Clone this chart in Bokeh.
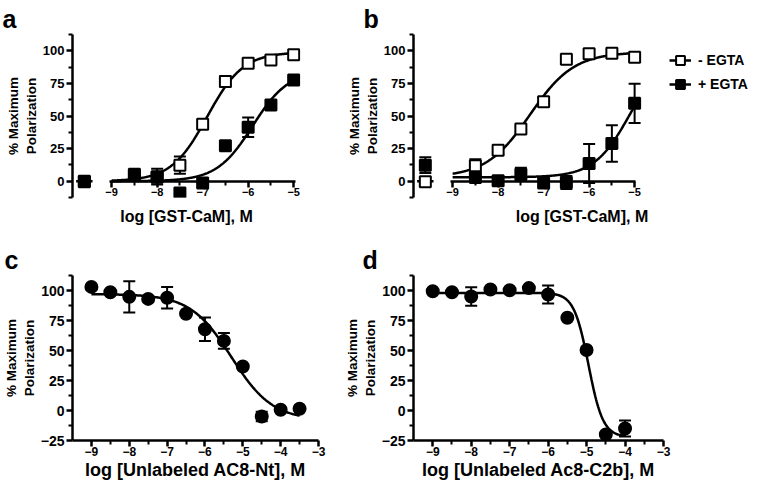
import numpy as np
from bokeh.plotting import figure
from bokeh.models import (ColumnDataSource, Whisker, TeeHead, FixedTicker, Range1d,
                          Legend, LegendItem, LinearAxis)
from bokeh.layouts import column, row
from bokeh.embed import file_html
from bokeh.resources import INLINE

FONT = "Liberation Sans"

# ---------------- data ----------------
ZERO_X = -9.6  # "no GST-CaM" control, plotted on the broken-axis stub

# Panel a  (x = log [GST-CaM], M)
a_x = [ZERO_X, -8.5, -8.0, -7.5, -7.0, -6.5, -6.0, -5.5, -5.0]
a_minus_y = [0.0, 4.5, 3.5, 12.3, 43.6, 76.4, 90.5, 93.0, 96.9]
a_minus_err = [0, 0, 6.0, 6.6, 0, 4.0, 2.0, 0, 0]
a_plus_y = [-0.5, 5.4, 3.0, -9.0, -1.3, 27.2, 41.3, 58.5, 77.7]
a_plus_err = [0, 0, 2.0, 0, 0, 0, 7.5, 0, 0]
a_minus_fit = [0.0, 99.0, -6.9, 1.1]     # bottom, top, logEC50, Hill
a_plus_fit = [0.0, 85.0, -5.9, 1.1]

# Panel b
b_x = [ZERO_X, -8.5, -8.0, -7.5, -7.0, -6.5, -6.0, -5.5, -5.0]
b_minus_y = [-0.5, 11.8, 23.8, 40.0, 61.0, 93.6, 97.7, 98.2, 95.0]
b_minus_err = [0, 5.0, 3.0, 2.0, 3.0, 0, 0, 0, 0]
b_plus_y = [12.3, 2.8, 0.3, 5.4, -1.3, -1.0, 13.6, 29.0, 59.7]
b_plus_err = [6.0, 2.0, 0, 5.0, 0, 5.0, 15.0, 14.0, 15.0]
b_minus_fit = [3.0, 99.0, -7.3, 0.9]
b_plus_fit = [3.0, 100.0, -5.1, 1.1]

# Panel c  (x = log [Unlabeled AC8-Nt], M)
c_x = [-9.0, -8.5, -8.0, -7.5, -7.0, -6.5, -6.0, -5.5, -5.0, -4.5, -4.0, -3.5]
c_y = [103.0, 98.6, 94.7, 93.0, 93.9, 80.6, 67.7, 58.0, 36.7, -5.0, 0.6, 1.4]
c_err = [0, 0, 13.0, 0, 9.0, 0, 9.7, 6.6, 0, 4.0, 0, 0]
c_fit = [-8.0, 97.0, -5.3, -0.8]

# Panel d  (x = log [Unlabeled Ac8-C2b], M)
d_x = [-9.0, -8.5, -8.0, -7.5, -7.0, -6.5, -6.0, -5.5, -5.0, -4.5, -4.0]
d_y = [99.4, 98.6, 95.0, 100.8, 100.2, 102.0, 96.7, 77.3, 50.4, -20.0, -15.0]
d_err = [0, 0, 7.7, 0, 0, 0, 7.5, 0, 0, 0, 6.6]
d_fit = [-22.0, 98.0, -4.95, -2.3]

AB_XTICKS = [-9, -8, -7, -6, -5]
AB_XMINOR = [-8.5, -7.5, -6.5, -5.5]
AB_YTICKS = [0, 25, 50, 75, 100]
AB_YMINOR = [-12.5, 12.5, 37.5, 62.5, 87.5, 112.5]
CD_XTICKS = [-9, -8, -7, -6, -5, -4, -3]
CD_XMINOR = [-8.5, -7.5, -6.5, -5.5, -4.5, -3.5]
CD_YTICKS = [-25, 0, 25, 50, 75, 100]
CD_YMINOR = [-12.5, 12.5, 37.5, 62.5, 87.5, 112.5]

Y_LABEL_OUTER = "% Maximum"
Y_LABEL_INNER = "Polarization"
AB_XLABEL = "log [GST-CaM], M"


def logistic(x, bottom, top, logec50, hill):
    return bottom + (top - bottom) / (1.0 + 10.0 ** ((logec50 - x) * hill))


def base_fig(width, height, borders, xlim, ylim, tag, tag_offset):
    l, r, t, b = borders
    p = figure(width=width, height=height, x_range=Range1d(*xlim), y_range=Range1d(*ylim),
               output_backend="svg", toolbar_location=None, title=tag,
               x_axis_location=None, y_axis_location=None,
               min_border_left=l, min_border_right=r, min_border_top=t, min_border_bottom=b)
    p.outline_line_color = None
    p.xgrid.visible = False
    p.ygrid.visible = False
    p.background_fill_color = "white"
    p.border_fill_color = "white"
    p.title.align = "left"
    p.title.vertical_align = "top"
    p.title.offset = tag_offset
    p.title.standoff = 0
    p.title.text_font = FONT
    p.title.text_font_style = "bold"
    p.title.text_font_size = "25px"
    p.title.text_color = "black"
    return p


def tick_axis(ticks, minor, tick_px, label=None, label_px="13px", **kw):
    ax = LinearAxis(ticker=FixedTicker(ticks=ticks, minor_ticks=minor), **kw)
    ax.axis_line_width = 2.5
    ax.axis_line_color = "black"
    ax.major_tick_line_width = 2.5
    ax.minor_tick_line_width = 2
    ax.major_tick_out = 6
    ax.major_tick_in = 0
    ax.minor_tick_out = 4
    ax.minor_tick_in = 0
    ax.major_label_text_font = FONT
    ax.major_label_text_font_style = "bold"
    ax.major_label_text_font_size = tick_px
    ax.major_label_text_color = "black"
    ax.major_label_standoff = 2
    if label is not None:
        ax.axis_label = label
        ax.axis_label_text_font = FONT
        ax.axis_label_text_font_style = "bold"
        ax.axis_label_text_font_size = label_px
        ax.axis_label_text_color = "black"
        ax.axis_label_standoff = 1
    return ax


def label_axis(text, size, standoff, bounds="auto"):
    ax = LinearAxis(ticker=FixedTicker(ticks=[]), axis_label=text, bounds=bounds)
    ax.axis_line_color = None
    ax.major_tick_line_color = None
    ax.minor_tick_line_color = None
    ax.major_tick_out = 0
    ax.major_tick_in = 0
    ax.minor_tick_out = 0
    ax.minor_tick_in = 0
    ax.major_label_standoff = 0
    ax.axis_label_standoff = standoff
    ax.axis_label_text_font = FONT
    ax.axis_label_text_font_style = "bold"
    ax.axis_label_text_font_size = size
    ax.axis_label_text_color = "black"
    return ax


def draw_series(p, x, y, err, fit, xfit, marker, filled, size):
    xs = np.linspace(xfit[0], xfit[1], 300)
    line = p.line(xs, logistic(xs, *fit), line_color="black", line_width=2.5)
    idx = [i for i, e in enumerate(err) if e > 0]
    src = ColumnDataSource(dict(x=[x[i] for i in idx],
                                upper=[y[i] + err[i] for i in idx],
                                lower=[y[i] - err[i] for i in idx]))
    p.add_layout(Whisker(source=src, base="x", upper="upper", lower="lower",
                         line_color="black", line_width=2,
                         upper_head=TeeHead(size=12, line_width=2, line_color="black"),
                         lower_head=TeeHead(size=12, line_width=2, line_color="black")))
    pts = p.scatter(x, y, marker=marker, size=size, line_color="black", line_width=2,
                    fill_color="black" if filled else "white")
    return line, pts


AB_YLIM = (-12.5, 112.5)
CD_XLIM = (-9.5, -3.0)
CD_YLIM = (-25.0, 112.5)
BREAK_STUB = (-9.78, -9.42)
AB_AXIS_BOUNDS = (-9.04, -4.97)
AB_LABEL_BOUNDS = (-9.25, -4.97)


def ab_panel(width, borders, xlim, xs, minus_y, minus_err, plus_y, plus_err, minus_fit,
             plus_fit, tag, tag_offset):
    p = base_fig(width, 245, borders, xlim, AB_YLIM, tag, tag_offset)
    # y axis (ticks + inner label line), then outer label line
    p.add_layout(tick_axis(AB_YTICKS, AB_YMINOR, "13px", Y_LABEL_INNER, "13.5px"), "left")
    p.add_layout(label_axis(Y_LABEL_OUTER, "13.5px", 0), "left")
    # x axis drawn at y = 0, with a break before -9
    xax = tick_axis(AB_XTICKS, AB_XMINOR, "11px", fixed_location=0)
    xax.bounds = AB_AXIS_BOUNDS
    xax.major_label_standoff = 1
    p.add_layout(xax, "below")
    p.add_layout(label_axis(AB_XLABEL, "16px", 10, AB_LABEL_BOUNDS), "below")
    p.segment(x0=[BREAK_STUB[0]], y0=[0], x1=[BREAK_STUB[1]], y1=[0],
              line_color="black", line_width=2.5)
    ml, mp = draw_series(p, xs, minus_y, minus_err, minus_fit, (-9, -5), "square", False, 11)
    pl, pp = draw_series(p, xs, plus_y, plus_err, plus_fit, (-9, -5), "square", True, 11)
    return p, (ml, mp), (pl, pp)


pa, _, _ = ab_panel(330, (72, 30, 34, 48), (-9.86, -4.85), a_x, a_minus_y, a_minus_err,
                    a_plus_y, a_plus_err, a_minus_fit, a_plus_fit, "a", -70)
pb, b_minus_r, b_plus_r = ab_panel(427, (83, 7, 34, 48), (-9.86, -2.453), b_x, b_minus_y,
                                   b_minus_err, b_plus_y, b_plus_err, b_minus_fit,
                                   b_plus_fit, "b", -50)

legend = Legend(items=[LegendItem(label="- EGTA", renderers=list(b_minus_r)),
                       LegendItem(label="+ EGTA", renderers=list(b_plus_r))],
                location=(256, 102), orientation="vertical",
                border_line_color=None, background_fill_alpha=0,
                padding=0, margin=0, spacing=2, glyph_width=22, glyph_height=22,
                label_height=22, label_standoff=7,
                label_text_font=FONT, label_text_font_style="bold",
                label_text_font_size="14px", label_text_color="black")
pb.add_layout(legend)


def cd_panel(width, borders, xs, ys, err, fit, xfit, xlabel, tag, tag_offset):
    p = base_fig(width, 241, borders, CD_XLIM, CD_YLIM, tag, tag_offset)
    p.add_layout(tick_axis(CD_YTICKS, CD_YMINOR, "14px", Y_LABEL_INNER, "13.5px"), "left")
    p.add_layout(label_axis(Y_LABEL_OUTER, "13.5px", 0), "left")
    xax = tick_axis(CD_XTICKS, CD_XMINOR, "12px", xlabel, "18px")
    xax.major_label_standoff = 0
    xax.axis_label_standoff = 1
    p.add_layout(xax, "below")
    draw_series(p, xs, ys, err, fit, xfit, "circle", True, 12)
    return p


pc = cd_panel(330, (71, 12, 29, 46), c_x, c_y, c_err, c_fit, (-9, -3.5),
              "log [Unlabeled AC8-Nt], M", "c", -68)
pd_ = cd_panel(427, (83, 94, 29, 46), d_x, d_y, d_err, d_fit, (-9, -4),
               "log [Unlabeled Ac8-C2b], M", "d", -51)

layout = column(row(pa, pb, spacing=0), row(pc, pd_, spacing=0), spacing=0)

open("out.html", "w").write(file_html(layout, INLINE))
